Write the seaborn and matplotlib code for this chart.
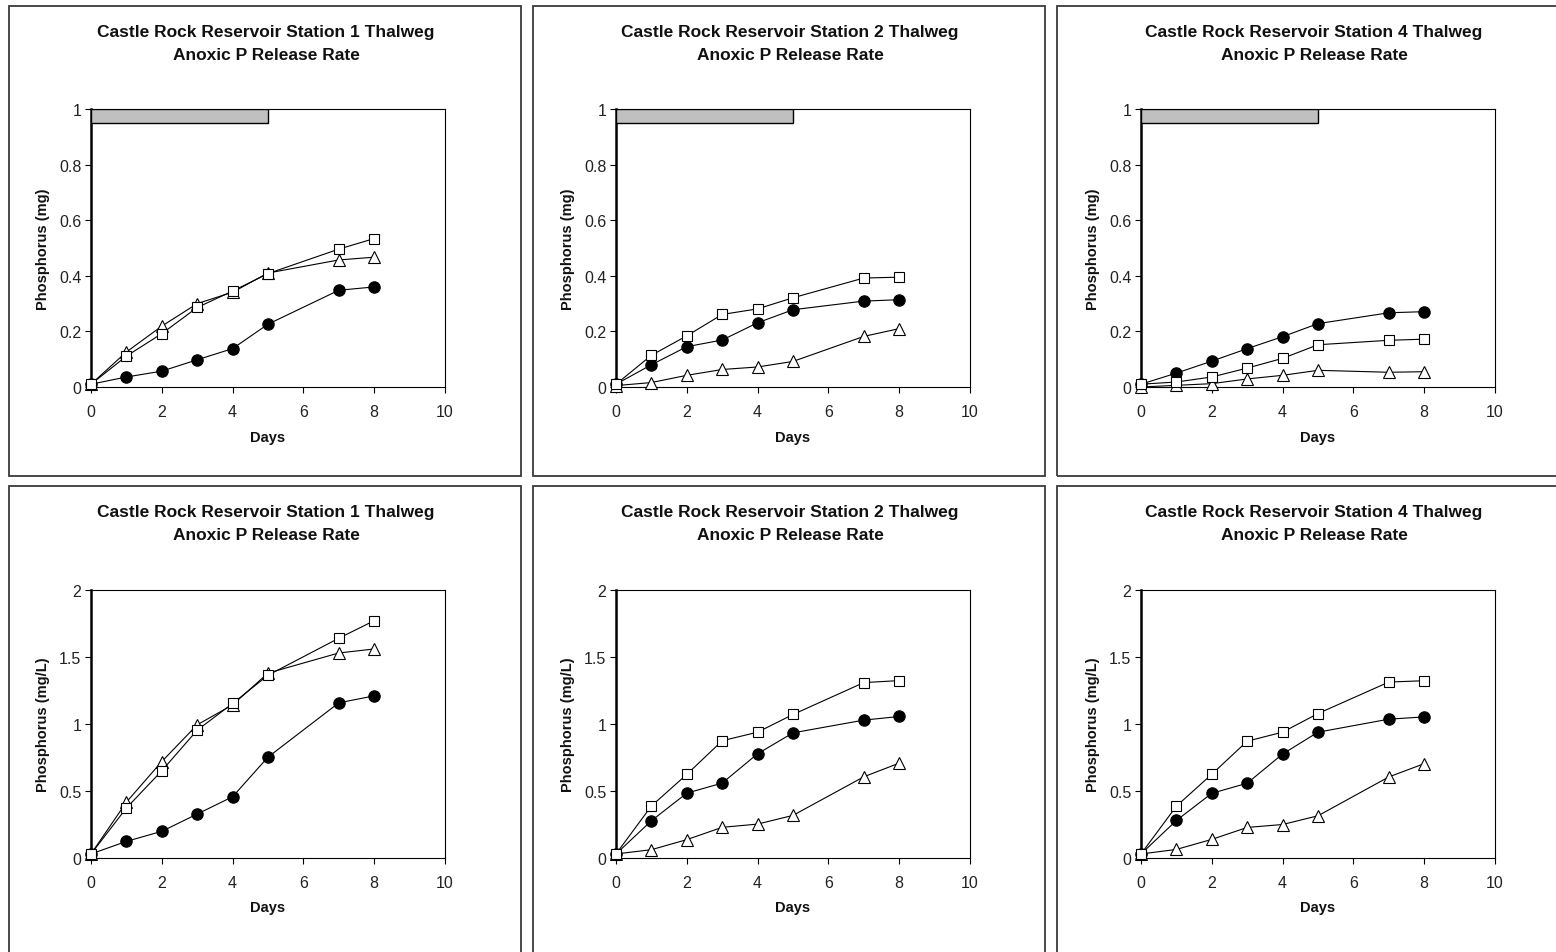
import matplotlib
matplotlib.use("Agg")
import matplotlib.pyplot as plt
from matplotlib.patches import Rectangle
import seaborn as sns
import numpy as np

# ---------------- data ----------------
days = [0, 1, 2, 3, 4, 5, 7, 8]

titles = [
    "Castle Rock Reservoir Station 1 Thalweg\nAnoxic P Release Rate",
    "Castle Rock Reservoir Station 2 Thalweg\nAnoxic P Release Rate",
    "Castle Rock Reservoir Station 4 Thalweg\nAnoxic P Release Rate",
]
ylabel_mass = "Phosphorus (mg)"
ylabel_conc = "Phosphorus (mg/L)"
xlabel = "Days"

# top row: mass (mg)
st1_mg_circle = [0.01, 0.036, 0.057, 0.098, 0.138, 0.226, 0.348, 0.360]
st1_mg_square = [0.01, 0.111, 0.192, 0.286, 0.345, 0.408, 0.496, 0.534]
st1_mg_triangle = [0.01, 0.126, 0.219, 0.300, 0.341, 0.410, 0.457, 0.467]

st2_mg_circle = [0.01, 0.080, 0.145, 0.169, 0.231, 0.278, 0.309, 0.314]
st2_mg_square = [0.01, 0.114, 0.184, 0.261, 0.281, 0.321, 0.392, 0.395]
st2_mg_triangle = [0.005, 0.016, 0.042, 0.063, 0.072, 0.092, 0.182, 0.210]

st4_mg_circle = [0.01, 0.050, 0.093, 0.138, 0.181, 0.228, 0.267, 0.271]
st4_mg_square = [0.01, 0.018, 0.036, 0.068, 0.103, 0.152, 0.168, 0.172]
st4_mg_triangle = [0.0, 0.006, 0.012, 0.029, 0.042, 0.060, 0.053, 0.055]

# bottom row: concentration (mg/L)
st1_mgl_circle = [0.03, 0.124, 0.199, 0.328, 0.457, 0.753, 1.158, 1.210]
st1_mgl_square = [0.03, 0.373, 0.651, 0.954, 1.153, 1.364, 1.640, 1.771]
st1_mgl_triangle = [0.03, 0.417, 0.720, 0.994, 1.143, 1.380, 1.530, 1.560]

st2_mgl_circle = [0.03, 0.278, 0.484, 0.559, 0.778, 0.934, 1.029, 1.056]
st2_mgl_square = [0.03, 0.388, 0.624, 0.875, 0.939, 1.071, 1.309, 1.324]
st2_mgl_triangle = [0.03, 0.062, 0.137, 0.229, 0.253, 0.318, 0.606, 0.708]

st4_mgl_circle = [0.03, 0.280, 0.483, 0.558, 0.776, 0.939, 1.036, 1.053]
st4_mgl_square = [0.03, 0.387, 0.625, 0.872, 0.939, 1.078, 1.313, 1.323]
st4_mgl_triangle = [0.03, 0.064, 0.139, 0.228, 0.250, 0.315, 0.605, 0.704]

# anoxic incubation period bar (top row)
anoxic_start = 0
anoxic_end = 5
bar_low = 0.95
bar_high = 1.0

x_ticks = [0, 2, 4, 6, 8, 10]
y_ticks_mass = [0, 0.2, 0.4, 0.6, 0.8, 1]
y_ticks_conc = [0, 0.5, 1, 1.5, 2]

# ---------------- style ----------------
sns.set_style("white")
plt.rcParams["font.family"] = ["Liberation Sans", "DejaVu Sans"]

W, H = 1556, 953
fig = plt.figure(figsize=(W / 100, H / 100), dpi=100)

col_left = [91, 616, 1141]
ax_w = 354
rows = [
    dict(top=110, bottom=388, title_y=(33, 56), days_y=438, box=(7, 477)),
    dict(top=591, bottom=859, title_y=(513, 536), days_y=908, box=(487, 957)),
]
box_x = [9, 533, 1057]
box_w = 512

data_rows = [
    [(st1_mg_circle, st1_mg_square, st1_mg_triangle),
     (st2_mg_circle, st2_mg_square, st2_mg_triangle),
     (st4_mg_circle, st4_mg_square, st4_mg_triangle)],
    [(st1_mgl_circle, st1_mgl_square, st1_mgl_triangle),
     (st2_mgl_circle, st2_mgl_square, st2_mgl_triangle),
     (st4_mgl_circle, st4_mgl_square, st4_mgl_triangle)],
]

for r, row in enumerate(rows):
    for c in range(3):
        # panel border
        bx0, by0, by1 = box_x[c], row["box"][0], row["box"][1]
        fig.patches.append(Rectangle((bx0 / W, 1 - by1 / H), box_w / W, (by1 - by0) / H,
                                     transform=fig.transFigure, fill=False,
                                     edgecolor="#3a3a3a", linewidth=1.3, zorder=0))
        left = col_left[c]
        ax = fig.add_axes([left / W, 1 - row["bottom"] / H, ax_w / W,
                           (row["bottom"] - row["top"]) / H])
        circ, sq, tri = data_rows[r][c]

        common = dict(color="black", linewidth=0.8, markeredgecolor="black",
                      markeredgewidth=0.8, ax=ax, sort=False, legend=False)
        sns.lineplot(x=days, y=circ, marker="o", markersize=8.2,
                     markerfacecolor="black", **common)
        sns.lineplot(x=days, y=tri, marker="^", markersize=8.5,
                     markerfacecolor="white", **common)
        sns.lineplot(x=days, y=sq, marker="s", markersize=7.5,
                     markerfacecolor="white", **common)
        for ln in ax.lines:
            ln.set_clip_on(False)
            ln.set_zorder(5)

        ax.set_xlim(0, 10)
        ax.set_xticks(x_ticks)
        if r == 0:
            ax.set_ylim(0, 1)
            ax.set_yticks(y_ticks_mass)
            ax.set_yticklabels(["0", "0.2", "0.4", "0.6", "0.8", "1"])
            ax.barh(y=(bar_low + bar_high) / 2, width=anoxic_end - anoxic_start,
                    height=bar_high - bar_low, left=anoxic_start,
                    color="#c0c0c0", edgecolor="black", linewidth=1.0, zorder=3)
            ylab = ylabel_mass
        else:
            ax.set_ylim(0, 2)
            ax.set_yticks(y_ticks_conc)
            ax.set_yticklabels(["0", "0.5", "1", "1.5", "2"])
            ylab = ylabel_conc
        ax.set_xticklabels([str(t) for t in x_ticks])

        ax.set_xlabel("")
        ax.set_ylabel("")
        ax.tick_params(axis="both", which="both", direction="out", length=4,
                       width=0.8, color="black", labelsize=11.5, pad=3,
                       labelcolor="#222222", bottom=True, left=True)
        ax.tick_params(axis="x", pad=8)
        for side, sp in ax.spines.items():
            sp.set_visible(True)
            sp.set_color("black")
            sp.set_linewidth(0.8)
        ax.spines["left"].set_linewidth(1.8)
        ax.set_facecolor("white")

        # titles and labels
        cx = (box_x[c] + box_w / 2 + 1) / W
        t1, t2 = titles[c].split("\n")
        fig.text(cx, 1 - row["title_y"][0] / H, t1, ha="center", va="center",
                 fontsize=12.5, fontweight="bold", color="#111111")
        fig.text(cx, 1 - row["title_y"][1] / H, t2, ha="center", va="center",
                 fontsize=12.5, fontweight="bold", color="#111111")
        fig.text((left + ax_w / 2) / W, 1 - row["days_y"] / H, xlabel,
                 ha="center", va="center", fontsize=10.5, fontweight="bold",
                 color="#111111")
        fig.text((left - 48) / W, 1 - (row["top"] + row["bottom"]) / 2 / H, ylab,
                 ha="center", va="center", rotation=90, fontsize=10.5,
                 fontweight="bold", color="#111111")

fig.savefig("out.png", dpi=100, facecolor="white")
